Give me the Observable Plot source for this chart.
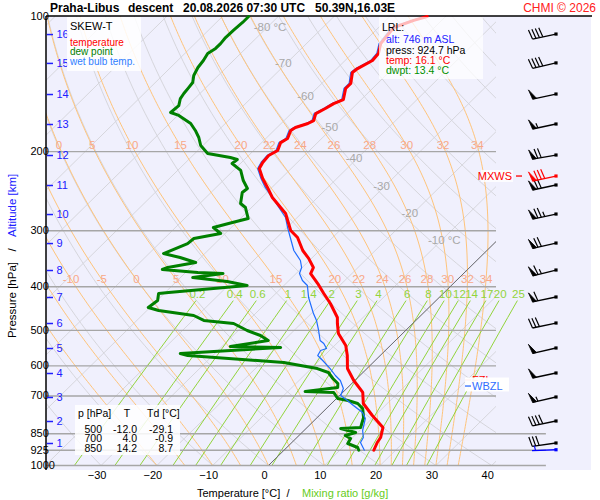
<!DOCTYPE html>
<html><head><meta charset="utf-8">
<script src="https://cdn.jsdelivr.net/npm/d3@7"></script>
<script src="https://cdn.jsdelivr.net/npm/@observablehq/plot@0.6"></script>
<style>body{margin:0;background:#fff;} #chart svg{display:block}</style>
</head><body><div id="chart"></div>
<script>
// ---------- data ----------
const tempP = [100,102.0,105.8,114.9,120.9,125.3,130.6,133.3,141.0,144.7,153.1,156.3,160.3,164.5,170.5,173.1,176.7,179.4,187.0,190.9,198.8,204.0,211.4,218.1,229.5,240.3,253.0,266.3,274.7,299.7,310.6,332.0,345.8,362.3,373.6,393.3,414.0,435.7,468.1,482.8,508.2,540.4,568.9,608.2,646.6,687.6,727.6,773.8,823.0,866.2,888.7,924.7];
const tempT = [-53.3,-55.0,-57.3,-56.7,-55.3,-55.1,-56.3,-56.5,-54.8,-54.8,-53.2,-54.2,-54.8,-55.6,-54.7,-55.2,-56.7,-57.0,-56.1,-56.6,-55.7,-56.4,-56.2,-55.7,-53.3,-50.8,-48.1,-44.8,-42.8,-38.8,-36.3,-33.0,-30.5,-28.0,-27.4,-24.3,-21.4,-18.4,-14.6,-13.5,-11.5,-8.0,-5.9,-3.5,-0.2,3.6,5.7,9.5,13.6,15.0,15.3,16.1];

const dewP = [100,103.1,107.4,111.4,114.9,117.8,120.9,125.3,129.9,135.3,140.3,144.0,148.4,152.3,157.9,163.6,166.1,173.1,179.4,186.0,193.8,201.9,206.1,208.2,212.5,220.2,231.9,241.6,246.6,260.9,266.3,281.8,287.6,295.1,304.3,312.2,320.4,337.2,344.2,353.1,362.3,366.0,371.7,373.6,381.3,389.2,397.3,411.8,414.0,429.1,444.8,451.6,463.4,475.3,482.8,500.4,513.4,526.8,543.2,546.0,563.1,568.9,589.7,608.2,620.7,640.1,656.7,670.3,684.2,687.6,709.2,716.5,727.6,746.6,781.8,823.0,827.2,844.3,857.4,870.7,893.3,911.8,924.7];
const dewT = [-85.3,-85.3,-85.5,-85.6,-85.4,-85.4,-85.9,-85.4,-85.1,-84.4,-83.3,-83.1,-82.9,-82.6,-81.6,-81.8,-79.8,-76.2,-74.1,-72.2,-70.4,-67.7,-62.9,-61.3,-61.5,-58.7,-56.4,-54.2,-54.4,-52.7,-51.1,-48.6,-50.7,-53.2,-50.8,-54.7,-54.9,-57.4,-53.7,-50.0,-54.1,-54.7,-47.8,-43.1,-47.8,-40.9,-36.6,-49.4,-51.0,-49.9,-50.3,-47.9,-40.7,-38.0,-32.1,-28.4,-25.1,-22.8,-28.5,-19.3,-36.2,-34.5,-16.0,-8.9,-6.2,-4.3,-2.5,-1.8,-6.9,-1.6,0.2,2.4,4.7,6.5,8.3,9.6,6.2,9.6,8.3,9.8,10.2,12.7,13.4];

const wetP = [100,102.0,105.8,114.9,120.9,125.3,130.6,133.3,141.0,144.7,153.1,156.3,160.3,164.5,170.5,173.1,176.7,179.4,187.0,190.9,198.8,204.0,211.4,218.1,229.5,240.3,256.9,267.7,280.3,295.1,310.6,332.0,349.5,362.3,373.6,387.2,397.3,422.5,458.8,475.3,500.4,526.8,534.9,548.8,554.5,568.9,583.6,608.2,630.3,646.6,673.8,698.4,716.5,735.2,762.0,785.8,835.7,866.2,888.7,924.7];
const wetT = [-53.6,-55.3,-57.6,-57.0,-55.6,-55.4,-56.6,-56.8,-55.1,-55.1,-53.5,-54.5,-55.1,-55.9,-55.0,-55.5,-57.0,-57.3,-56.4,-56.9,-56.0,-56.7,-56.5,-56.0,-53.6,-51.2,-47.2,-44.8,-42.1,-39.9,-37.6,-34.6,-31.6,-30.1,-29.4,-27.6,-25.8,-23.4,-19.6,-17.8,-15.6,-13.5,-12.3,-10.9,-11.6,-11.2,-9.4,-6.6,-4.4,-2.6,-0.6,0.2,2.3,4.3,7.2,8.8,10.5,11.9,12.3,14.4];

// altitude (km) marks and winds at each km
const altKm = [1,2,3,4,5,6,7,8,9,10,11,12,13,14,15,16];
const altP  = [893.3,798.0,705.6,623.9,548.8,482.8,422.5,367.9,320.4,276.1,237.9,204.0,174.0,149.2,127.2,109.7];
const windDir = [262,258,257,258,257,258,258,256,257,258,258,260,258,258,257,258];
const windSpd = [30,40,55,50,50,30,60,65,70,75,70,70,55,50,40,40];
const maxWind = {p: 227.2, dir: 258, spd: 80};
const sfcWind = {p: 924.7, dir: 268, spd: 5};

// levels and labels
const pressureTicks = [100,200,300,400,500,600,700,850,925,1000];
const isobarsUpper = [200,300,400,500,600,700];
const isobarsLower = [850,925,1000];
const tempTicks = [-30,-20,-10,0,10,20,30,40];
const isoLabelT = [-80,-70,-60,-50,-40,-30,-20,-10];
const isoLabelP = [105.8,127.2,150.7,176.7,207.2,239.1,274.7,315.4];
const moistTw = [-20,-15,-10,-5,0,5,10,15,20,22,24,26,28,30,32,34];
const moistLabelsTop = [0,5,10,15,20,22,24,26,28,30,32,34];
const moistLabelsMid = [-10,-5,0,5,10,15,20,22,24,26,28,30,32,34];
const mixRatios = [0.2,0.4,0.6,1,1.4,2,3,4,6,8,10,12,14,17,20,25];
const isothermList = d3.range(-140, 60, 10);
const dryThetaC = d3.range(-40, 220, 10);

const tableP = [500,700,850];
const tableT = [-12.0,4.0,14.2];
const tableTd = [-29.1,-0.9,8.7];
const lrl = {alt: 746, press: 924.7, temp: 16.1, dwpt: 13.4};
const levelFZL = 646.6, levelWBZL = 667;

// ---------- diagram geometry ----------
const SKEW = 35.5;
const X_LEFT = -39.78, X_RIGHT = 40.86, X_EXT = 49.8;
const FONT = "'Liberation Sans', Arial, Helvetica, sans-serif";
const sx = (T, p) => T + SKEW * Math.log(1000 / p);

const zip = (P, T) => P.map((p, i) => ({p, T: T[i]}));
const tempData = zip(tempP, tempT), dewData = zip(dewP, dewT), wetData = zip(wetP, wetT);

const pGrid = d3.range(0, 61).map(i => 1000 * Math.pow(0.1, i / 60));
const isoData = isothermList.flatMap(t => [{id: t, p: 1000, T: t}, {id: t, p: 100, T: t}]);
const dryData = dryThetaC.flatMap(th => pGrid.map(p => ({id: th, p, T: (th + 273.15) * Math.pow(p / 1000, 0.2857) - 273.15})));

function moistCurve(tw) {
  const f = (T, lnp) => {
    const p = Math.exp(lnp), Tc = T - 273.15;
    const es = 6.112 * Math.exp(17.67 * Tc / (Tc + 243.5));
    const rs = 0.622 * es / (p - es);
    return (287.04 * T + 2.501e6 * rs) / (1005.7 + 2.501e6 * 2.501e6 * rs * 0.622 / (287.04 * T * T));
  };
  const n = 150, pts = [];
  let T = tw + 273.15, lnp = Math.log(1000);
  const h = (Math.log(100) - lnp) / n;
  for (let i = 0; i <= n; i++) {
    pts.push({id: tw, p: Math.exp(lnp), T: T - 273.15});
    const k1 = f(T, lnp), k2 = f(T + h / 2 * k1, lnp + h / 2), k3 = f(T + h / 2 * k2, lnp + h / 2), k4 = f(T + h * k3, lnp + h);
    T += h / 6 * (k1 + 2 * k2 + 2 * k3 + k4);
    lnp += h;
  }
  return pts;
}
const moistCurves = new Map(moistTw.map(tw => [tw, moistCurve(tw)]));
const moistData = [...moistCurves.values()].flat();
function moistAt(tw, p) {
  const c = moistCurves.get(tw);
  for (let i = 1; i < c.length; i++) if (c[i].p <= p) {
    const a = c[i - 1], b = c[i];
    const t = Math.log(a.p / p) / Math.log(a.p / b.p);
    return a.T + t * (b.T - a.T);
  }
  return c[c.length - 1].T;
}
const tdFromW = (w, p) => { const e = w * p / (622 + w), l = Math.log(e / 6.112); return 243.5 * l / (17.67 - l); };
const MIX_TOP = 430;
const mixData = mixRatios.flatMap(w => d3.range(0, 11).map(i => { const p = 1000 * Math.pow(MIX_TOP / 1000, i / 10); return {id: w, p, T: tdFromW(w, p)}; }));

const fmtNeg = d => d < 0 ? "\u2212" + (-d) : String(d);

// ---------- custom drawing ----------
const background = (index, scales, values, dims) => {
  const g = d3.create("svg:g");
  g.append("rect").attr("x", dims.marginLeft).attr("y", dims.marginTop)
    .attr("width", dims.width - dims.marginLeft - 9).attr("height", dims.height - dims.marginTop - dims.marginBottom + 5)
    .attr("fill", "#f0f0fd");
  return g.node();
};
const frameLines = (index, scales, values, dims) => {
  const g = d3.create("svg:g");
  const y0 = scales.y(100);
  g.append("line").attr("x1", dims.marginLeft).attr("x2", dims.width - 8).attr("y1", y0).attr("y2", y0).attr("stroke", "#000").attr("stroke-width", 1.5);
  g.append("line").attr("x1", dims.marginLeft).attr("x2", dims.marginLeft).attr("y1", y0).attr("y2", dims.height - dims.marginBottom + 5).attr("stroke", "#000").attr("stroke-width", 1.5);
  return g.node();
};
const barbs = (index, scales, values, dims) => {
  const g = d3.create("svg:g");
  const bx = dims.width - 44;
  const draw = (p, dir, spd, color) => {
    const by = scales.y(p);
    const a = dir * Math.PI / 180, ux = Math.sin(a), uy = -Math.cos(a);
    const L = 24, F = 10, th = 78 * Math.PI / 180;
    const fx = ux * Math.cos(th) - uy * Math.sin(th), fy = ux * Math.sin(th) + uy * Math.cos(th);
    const pt = s => [bx + ux * s, by + uy * s];
    g.append("line").attr("x1", bx).attr("y1", by).attr("x2", bx + ux * L).attr("y2", by + uy * L).attr("stroke", color).attr("stroke-width", 1.3);
    const n50 = Math.floor(spd / 50), r = spd - 50 * n50, n10 = Math.floor(r / 10), n5 = (r - 10 * n10) >= 5 ? 1 : 0;
    let s = L;
    for (let i = 0; i < n50; i++) {
      const [x0, y0] = pt(s), [x1, y1] = pt(s - 4);
      g.append("path").attr("d", `M${x0},${y0}L${x0 + fx * F},${y0 + fy * F}L${x1},${y1}Z`).attr("fill", color).attr("stroke", color).attr("stroke-width", 0.8);
      s -= 5.5;
    }
    for (let i = 0; i < n10; i++) {
      const [x0, y0] = pt(s);
      g.append("line").attr("x1", x0).attr("y1", y0).attr("x2", x0 + fx * F).attr("y2", y0 + fy * F).attr("stroke", color).attr("stroke-width", 1.2);
      s -= 3.5;
    }
    if (n5) {
      if (n50 + n10 === 0) s -= 3.5;
      const [x0, y0] = pt(s);
      g.append("line").attr("x1", x0).attr("y1", y0).attr("x2", x0 + fx * F / 2).attr("y2", y0 + fy * F / 2).attr("stroke", color).attr("stroke-width", 1.2);
    }
    g.append("rect").attr("x", bx - 1.6).attr("y", by - 1.6).attr("width", 3.2).attr("height", 3.2).attr("fill", color);
  };
  altP.forEach((p, i) => draw(p, windDir[i], windSpd[i], "#000"));
  draw(maxWind.p, maxWind.dir, maxWind.spd, "#ff0000");
  draw(sfcWind.p, sfcWind.dir, sfcWind.spd, "#0000ff");
  return g.node();
};
const overlay = (index, scales, values, dims) => {
  const g = d3.create("svg:g").attr("font-family", FONT).attr("text-anchor", "start");
  const txt = (x, y, s, o = {}) => { const t = g.append("text").attr("x", x).attr("y", y).attr("text-anchor", "start").text(s); for (const k in o) t.attr(k, o[k]); return t; };
  const box = (x, y, w, h, op) => g.append("rect").attr("x", x).attr("y", y).attr("width", w).attr("height", h).attr("fill", "#fff").attr("fill-opacity", op);
  // title
  const tb = {"font-weight": "bold", "font-size": 12};
  txt(50, 12, "Praha-Libus", tb); txt(128, 12, "descent", tb); txt(183, 12, "20.08.2026 07:30 UTC", tb); txt(315, 12, "50.39N,16.03E", tb);
  txt(596, 11.5, "CHMI \u00a9 2026", {"font-size": 12, fill: "#ff2020", "text-anchor": "end"});
  // legend
  box(67, 17, 74, 54, 0.85);
  txt(70, 30, "SKEW-T", {"font-size": 11});
  txt(70, 45.8, "temperature", {"font-size": 10, fill: "#ff0000"});
  txt(70, 55.2, "dew point", {"font-size": 10, fill: "#008000"});
  txt(70, 64.6, "wet bulb temp.", {"font-size": 10, fill: "#2f7dff"});
  // LRL
  box(379, 17, 104, 62, 0.72);
  const fl = {"font-size": 10.5};
  txt(382, 31, "LRL:", fl);
  txt(386, 43.3, `alt: ${lrl.alt} m ASL`, {...fl, fill: "#2020ff"});
  txt(386, 53.8, `press: ${lrl.press.toFixed(1)} hPa`, fl);
  txt(386, 64.1, `temp: ${lrl.temp.toFixed(1)} \u00b0C`, {...fl, fill: "#ff0000"});
  txt(386, 74.3, `dwpt: ${lrl.dwpt.toFixed(1)} \u00b0C`, {...fl, fill: "#009000"});
  // table
  box(75, 405, 105, 50, 0.85);
  const ft = {"font-size": 10.5};
  txt(78, 417, "p [hPa]", ft); txt(127, 417, "T", {...ft, "text-anchor": "middle"}); txt(147, 417, "Td [\u00b0C]", ft);
  tableP.forEach((p, i) => {
    const yy = 432.5 + i * 9.6;
    txt(102, yy, String(p), {...ft, "text-anchor": "end"});
    txt(137, yy, tableT[i].toFixed(1), {...ft, "text-anchor": "end"});
    txt(173, yy, tableTd[i].toFixed(1), {...ft, "text-anchor": "end"});
  });
  // FZL / WBZL
  const yF = scales.y(levelFZL), yW = scales.y(levelWBZL);
  g.append("line").attr("x1", 465).attr("x2", 471).attr("y1", yF).attr("y2", yF).attr("stroke", "#ff0000").attr("stroke-width", 1.3);
  txt(472, yF + 4, "FZL", {"font-size": 11, fill: "#ff0000"});
  box(465, yF - 2.5, 44, 14, 0.95);
  g.append("line").attr("x1", 465).attr("x2", 471).attr("y1", yW).attr("y2", yW).attr("stroke", "#2f6dff").attr("stroke-width", 1.3);
  txt(472, yW + 4, "WBZL", {"font-size": 11, fill: "#2f6dff"});
  // MXWS
  const yM = scales.y(maxWind.p);
  box(481, yM - 6, 32, 12, 0.8);
  txt(512, yM + 4, "MXWS", {"font-size": 11, fill: "#ff0000", "text-anchor": "end"});
  g.append("line").attr("x1", 516).attr("x2", 522).attr("y1", yM).attr("y2", yM).attr("stroke", "#ff0000").attr("stroke-width", 1.3);
  // axis titles
  txt(197, 497, "Temperature [\u00b0C]", {"font-size": 11});
  txt(288, 497, "/", {"font-size": 11, "text-anchor": "middle"});
  txt(302, 497, "Mixing ratio [g/kg]", {"font-size": 11, fill: "#66cc22"});
  g.append("text").attr("transform", "translate(16,262) rotate(-90)").attr("text-anchor", "end").attr("font-size", 11.5).text("Pressure [hPa]");
  g.append("text").attr("transform", "translate(16,250) rotate(-90)").attr("text-anchor", "middle").attr("font-size", 11.5).text("/");
  g.append("text").attr("transform", "translate(16,237) rotate(-90)").attr("text-anchor", "start").attr("font-size", 11.5).attr("fill", "#2020ff").text("Altitude [km]");
  return g.node();
};

// ---------- plot ----------
const xs = d => sx(d.T, d.p);
const baseMarks = [
  Plot.line(isoData, {x: xs, y: "p", z: "id", stroke: "#d6d6dc", strokeWidth: 1, clip: true}),
  Plot.line(dryData, {x: xs, y: "p", z: "id", stroke: "#d6d6dc", strokeWidth: 1, clip: true}),
  Plot.line(moistData, {x: xs, y: "p", z: "id", stroke: "#ffc47a", strokeWidth: 1, clip: true}),
  Plot.line(mixData, {x: xs, y: "p", z: "id", stroke: "#92d43c", strokeWidth: 1}),
  Plot.ruleY(isobarsUpper, {stroke: "#a6a6a6", strokeWidth: 1.4}),
  Plot.ruleY(isobarsLower, {x1: X_LEFT, x2: X_EXT, stroke: "#a6a6a6", strokeWidth: 1.4}),
  Plot.line([{p: 1000, T: 0}, {p: 100, T: 0}], {x: xs, y: "p", stroke: "#6a6a70", strokeWidth: 1, clip: true}),
  Plot.text(moistLabelsTop, {x: tw => sx(moistAt(tw, 194), 194), y: () => 194, text: String, fill: "#f8a888", fontSize: 11.5}),
  Plot.text(moistLabelsMid, {x: tw => sx(moistAt(tw, 385), 385), y: () => 385, text: String, fill: "#f8a888", fontSize: 11.5}),
  Plot.text(mixRatios, {x: w => sx(tdFromW(w, 425), 425), y: () => 416, text: String, fill: "#92d43c", fontSize: 11.5}),
  Plot.text(isoLabelT.slice(1, 7), {x: (t, i) => sx(t, isoLabelP[i + 1]), y: (t, i) => isoLabelP[i + 1], text: String, dx: -3, fill: "#a8a8a8", fontSize: 11.5}),
  Plot.text([isoLabelT[0], isoLabelT[7]], {x: (t, i) => sx(t, isoLabelP[i * 7]), y: (t, i) => isoLabelP[i * 7], text: t => `${t} \u00b0C`, dx: 3, fill: "#a8a8a8", fontSize: 11.5}),
  Plot.line(dewData, {x: xs, y: "p", stroke: "#008000", strokeWidth: 3, strokeLinejoin: "round"}),
  Plot.line(wetData, {x: xs, y: "p", stroke: "#1e6cff", strokeWidth: 1.2}),
  Plot.line(tempData, {x: xs, y: "p", stroke: "#ff0000", strokeWidth: 3, strokeLinejoin: "round"}),
  Plot.text(pressureTicks, {frameAnchor: "left", y: d => d, dx: -16, text: String, fontSize: 11, fill: "#000"}),
  Plot.text(tempTicks, {x: d => d, frameAnchor: "bottom", dy: 13, dx: -4, text: fmtNeg, fontSize: 11, fill: "#000"}),
  Plot.ruleY(altP, {x1: X_LEFT + 0.15, x2: X_LEFT + 1.25, stroke: "#2020ff", strokeWidth: 1.5}),
  Plot.text(altKm, {x: X_LEFT, y: (d, i) => altP[i], dx: 10, textAnchor: "start", text: String, fill: "#2020ff", fontSize: 11})
];
function build(withCustom) {
  const marks = withCustom ? [background, ...baseMarks.slice(0, 7), frameLines, ...baseMarks.slice(7), overlay, barbs] : baseMarks;
  return Plot.plot({
    width: 600, height: 500,
    marginTop: 16, marginRight: 104, marginBottom: 35, marginLeft: 46,
    x: {domain: [X_LEFT, X_RIGHT], axis: null},
    y: {type: "log", domain: [1000, 100], axis: null},
    style: {background: "white", fontFamily: FONT, fontSize: "11px", overflow: "visible"},
    marks
  });
}
let chart;
try { chart = build(true); } catch (e) { console.error(e); chart = build(false); }
document.getElementById("chart").append(chart);
</script></body></html>
